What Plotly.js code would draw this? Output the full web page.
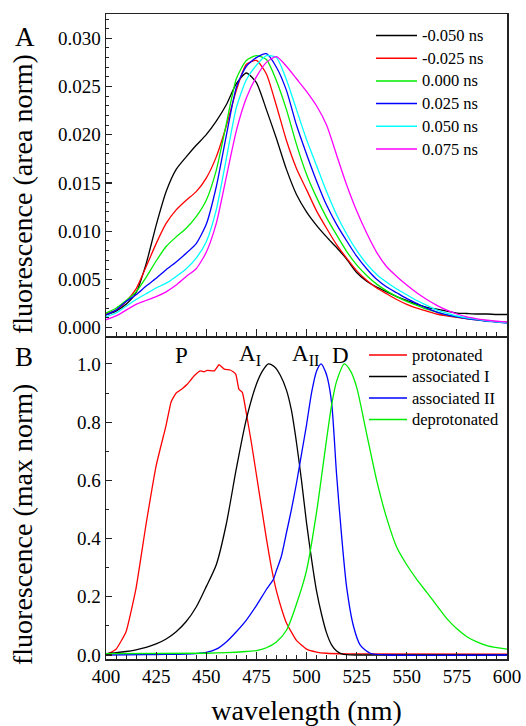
<!DOCTYPE html>
<html><head><meta charset="utf-8">
<script src="https://cdn.plot.ly/plotly-3.0.1.min.js"></script>
<style>html,body{margin:0;padding:0;background:#fff}#chart{width:526px;height:726px}</style>
</head><body><div id="chart"></div>
<script>
// ---------- Panel A: time-resolved spectra (area normalised) ----------
const wlA = [400,405,410,415,420,425,430,435,440,445,450,455,460,465,470,475,480,485,490,495,500,505,510,515,520,525,530,535,540,545,550,555,560,565,570,575,580,585,590,595,600];
const delayLabels = ['-0.050 ns','-0.025 ns','0.000 ns','0.025 ns','0.050 ns','0.075 ns'];
const delayColors = ['#000000','#ff0000','#00ee00','#0000ff','#00ffff','#ff00ff'];
const fl_m050 = [0.0013,0.0017,0.0024,0.0036,0.0066,0.0106,0.0141,0.0164,0.0177,0.0189,0.0200,0.0214,0.0231,0.0253,0.0264,0.0254,0.0226,0.0196,0.0164,0.0138,0.0120,0.0106,0.0094,0.0083,0.0071,0.0057,0.0048,0.0042,0.0037,0.0032,0.0028,0.0024,0.0021,0.0019,0.0017,0.0015,0.00145,0.0014,0.0014,0.00135,0.00135];
const fl_m025 = [0.0014,0.0018,0.0027,0.0040,0.0063,0.0087,0.0108,0.0122,0.0132,0.0141,0.0155,0.0177,0.0209,0.0246,0.0273,0.0277,0.0263,0.0230,0.0194,0.0165,0.0143,0.0121,0.0103,0.0086,0.0072,0.0059,0.0049,0.0041,0.0035,0.0029,0.0024,0.0020,0.0017,0.0014,0.0012,0.00105,0.0009,0.0008,0.0007,0.0006,0.00055];
const fl_000 = [0.0015,0.0020,0.0028,0.0037,0.0052,0.0069,0.0084,0.0094,0.0103,0.0115,0.0132,0.0163,0.0211,0.0258,0.0277,0.0282,0.0278,0.0256,0.0226,0.0190,0.0159,0.0135,0.0114,0.0096,0.0079,0.0065,0.0054,0.0045,0.0038,0.0032,0.0027,0.0023,0.0019,0.0016,0.0013,0.0011,0.00095,0.0008,0.0007,0.0006,0.0005];
const fl_p025 = [0.0013,0.0018,0.0027,0.0034,0.0043,0.0051,0.0060,0.0068,0.0077,0.0087,0.0107,0.0146,0.0199,0.0249,0.0271,0.0280,0.0284,0.0270,0.0246,0.0210,0.0180,0.0152,0.0127,0.0107,0.0090,0.0074,0.0061,0.0050,0.0042,0.0036,0.0030,0.0025,0.0020,0.0016,0.0013,0.0011,0.00092,0.00078,0.00065,0.00055,0.00045];
const fl_p050 = [0.0011,0.0015,0.0022,0.0029,0.0035,0.0041,0.0046,0.0053,0.0061,0.0072,0.0089,0.0122,0.0175,0.0228,0.0257,0.0272,0.0282,0.0280,0.0257,0.0226,0.0195,0.0168,0.0141,0.0117,0.0097,0.0080,0.0066,0.0055,0.0047,0.0040,0.0034,0.0028,0.0023,0.0018,0.0015,0.0012,0.0010,0.00085,0.0007,0.00058,0.00048];
const fl_p075 = [0.0008,0.0012,0.0018,0.0024,0.0028,0.0032,0.0037,0.0044,0.0053,0.0061,0.0078,0.0108,0.0156,0.0204,0.0238,0.0260,0.0275,0.0281,0.0271,0.0258,0.0245,0.0230,0.0210,0.0179,0.0148,0.0121,0.0098,0.0078,0.0063,0.0053,0.0044,0.0036,0.0029,0.0023,0.0018,0.0014,0.0011,0.0009,0.00075,0.00065,0.00055];
const seriesA = [fl_m050, fl_m025, fl_000, fl_p025, fl_p050, fl_p075];

// ---------- Panel B: component spectra (max normalised) ----------
const speciesLabels = ['protonated','associated I','associated II','deprotonated'];
const speciesColors = ['#ff0000','#000000','#0000ff','#00ee00'];
const wlP  = [400,405,410,415,420,425,430,432.5,435,438,440.5,444,447,449,450.5,454,456.4,459,462,464.7,466.3,468,470,472.5,475,477.5,480,482.5,485,487.5,490,495,500,505,510,520,600];
const protonated = [0,0.02,0.08,0.23,0.45,0.65,0.79,0.87,0.9,0.915,0.93,0.959,0.976,0.973,0.978,0.976,0.997,0.982,0.979,0.965,0.913,0.902,0.83,0.73,0.62,0.51,0.40,0.30,0.22,0.16,0.11,0.05,0.02,0.01,0.006,0.004,0.003];
const wlAI = [400,405,410,415,420,425,430,435,440,445,450,455,460,465,470,475,478,481,484,487,490,492.5,495,497.5,500,502.5,505,507.5,510,512.5,515,517.5,520,525,600];
const associatedI = [0.005,0.008,0.012,0.018,0.026,0.038,0.055,0.08,0.115,0.165,0.235,0.31,0.45,0.64,0.81,0.93,0.975,1.0,0.99,0.96,0.91,0.84,0.73,0.60,0.455,0.33,0.22,0.14,0.076,0.035,0.014,0.004,0.001,0,0];
const wlAII = [400,420,430,440,445,450,455,460,465,470,475,480,483.5,485,487.5,490,492.5,495,497.5,500,502.5,505,507.3,509.3,510.5,512.6,515,517.5,520,523.5,526.8,531.8,540,600];
const associatedII = [0,0.001,0.002,0.003,0.005,0.009,0.02,0.045,0.08,0.12,0.17,0.225,0.26,0.29,0.34,0.42,0.50,0.59,0.69,0.79,0.90,0.975,1.0,0.976,0.95,0.862,0.62,0.41,0.234,0.097,0.034,0.006,0,0];
const wlD = [400,450,460,470,475,480,485,490,495,500,505,510,512.6,515,518.9,522,525,530,535,540,545,550,555,560,565,570,575,580,585,590,595,600];
const deprotonated = [0.005,0.006,0.008,0.012,0.015,0.025,0.045,0.085,0.175,0.29,0.49,0.74,0.862,0.94,1.0,0.975,0.92,0.76,0.60,0.47,0.37,0.31,0.26,0.215,0.17,0.125,0.09,0.063,0.045,0.032,0.025,0.02];
const xB = [wlP, wlAI, wlAII, wlD];
const seriesB = [protonated, associatedI, associatedII, deprotonated];
const smoothB = [0.4, 0.7, 0.7, 0.7];

const peakLabels = ['P','A<sub>I</sub>','A<sub>II</sub>','D'];
const peakLabelX = [437.7, 465.2, 491.8, 517.2];
const panelLetters = ['A','B'];
const yTitles = ['fluorescence (area norm)','fluorescence (max norm)'];
const xTitle = 'wavelength (nm)';

const FONT = 'Liberation Serif, Times New Roman, Times, serif';
const traces = [];
seriesA.forEach((ys, i) => traces.push({
  x: wlA, y: ys, type: 'scatter', mode: 'lines', name: delayLabels[i], showlegend: false,
  line: {color: delayColors[i], width: 1.3, shape: 'spline', smoothing: 0.6},
  xaxis: 'x', yaxis: 'y'
}));
seriesB.forEach((ys, i) => traces.push({
  x: xB[i], y: ys, type: 'scatter', mode: 'lines', name: speciesLabels[i], showlegend: false,
  line: {color: speciesColors[i], width: 1.3, shape: 'spline', smoothing: smoothB[i]},
  xaxis: 'x2', yaxis: 'y2'
}));

// ---- legend boxes, laid out in pixels and converted to paper coordinates ----
const W = 526, H = 726, ML = 106, MR = 19, MT = 14, MB = 67;
const PW = W - ML - MR, PH = H - MT - MB;
const px2x = p => (p - ML) / PW;
const px2y = p => (H - MB - p) / PH;
const shapes = [];
const annotations = [];
function addLegend(labels, colors, lineX0, lineX1, textX, rowY0, rowStep, fontSize) {
  labels.forEach((lab, i) => {
    const yy = px2y(rowY0 + i * rowStep);
    shapes.push({type: 'line', xref: 'paper', yref: 'paper', x0: px2x(lineX0), x1: px2x(lineX1), y0: yy, y1: yy,
      line: {color: colors[i], width: 1.5}});
    annotations.push({x: px2x(textX), y: yy, xref: 'paper', yref: 'paper', text: lab, showarrow: false,
      xanchor: 'left', yanchor: 'middle', font: {family: FONT, size: fontSize, color: '#000'}});
  });
}
addLegend(delayLabels, delayColors, 376, 417, 419.5, 35.5, 22.7, 16.5);
addLegend(speciesLabels, speciesColors, 369, 407, 409.5, 355, 21.5, 16.5);

peakLabels.forEach((t, i) => annotations.push({
  x: peakLabelX[i], y: 1.03, xref: 'x2', yref: 'y2', text: t, showarrow: false,
  xanchor: i === 0 || i === 3 ? 'center' : 'left', yanchor: 'middle',
  font: {family: FONT, size: 23, color: '#000'}
}));
annotations.push({x: px2x(25), y: px2y(37), xref: 'paper', yref: 'paper', text: panelLetters[0], showarrow: false,
  xanchor: 'center', yanchor: 'middle', font: {family: FONT, size: 27, color: '#000'}});
annotations.push({x: px2x(24), y: px2y(356.5), xref: 'paper', yref: 'paper', text: panelLetters[1], showarrow: false,
  xanchor: 'center', yanchor: 'middle', font: {family: FONT, size: 27, color: '#000'}});
annotations.push({x: px2x(22), y: px2y(194), xref: 'paper', yref: 'paper', text: yTitles[0], showarrow: false,
  textangle: -90, xanchor: 'center', yanchor: 'middle', font: {family: FONT, size: 28, color: '#000'}});
annotations.push({x: px2x(22), y: px2y(525), xref: 'paper', yref: 'paper', text: yTitles[1], showarrow: false,
  textangle: -90, xanchor: 'center', yanchor: 'middle', font: {family: FONT, size: 28, color: '#000'}});

const axLine = {showline: true, linecolor: '#222', linewidth: 1.5, mirror: true, zeroline: false, showgrid: false,
  ticks: 'inside', tickcolor: '#222', tickwidth: 1.2, tickfont: {family: FONT, size: 19, color: '#000'}};

const layout = {
  width: W, height: H,
  margin: {l: ML, r: MR, t: MT, b: MB},
  paper_bgcolor: '#fff', plot_bgcolor: '#fff',
  font: {family: FONT, color: '#000'},
  showlegend: false,
  xaxis: Object.assign({}, axLine, {domain: [0,1], range: [400,600], anchor: 'y', dtick: 25, tick0: 400,
    showticklabels: false, ticklen: 7, minor: {dtick: 5, ticklen: 4, ticks: 'inside', tickcolor: '#222', tickwidth: 1}}),
  yaxis: Object.assign({}, axLine, {domain: [0.5008, 1], range: [-0.00088, 0.03252], anchor: 'x', dtick: 0.005, tick0: 0,
    tickformat: '.3f', ticklen: 6, minor: {dtick: 0.001, ticklen: 3, ticks: 'inside', tickcolor: '#222', tickwidth: 1}}),
  xaxis2: Object.assign({}, axLine, {domain: [0,1], range: [400,600], anchor: 'y2', dtick: 25, tick0: 400,
    ticklen: 7, minor: {dtick: 5, ticklen: 4, ticks: 'inside', tickcolor: '#222', tickwidth: 1},
    title: {text: xTitle, font: {family: FONT, size: 28, color: '#000'}, standoff: 14}}),
  yaxis2: Object.assign({}, axLine, {domain: [0, 0.4977], range: [-0.0137, 1.089], anchor: 'x2', dtick: 0.2, tick0: 0,
    tickformat: '.1f', ticklen: 6, minor: {dtick: 0.1, ticklen: 3, ticks: 'inside', tickcolor: '#222', tickwidth: 1}}),
  shapes: shapes,
  annotations: annotations
};

Plotly.newPlot('chart', traces, layout, {staticPlot: true, displayModeBar: false});
</script></body></html>
